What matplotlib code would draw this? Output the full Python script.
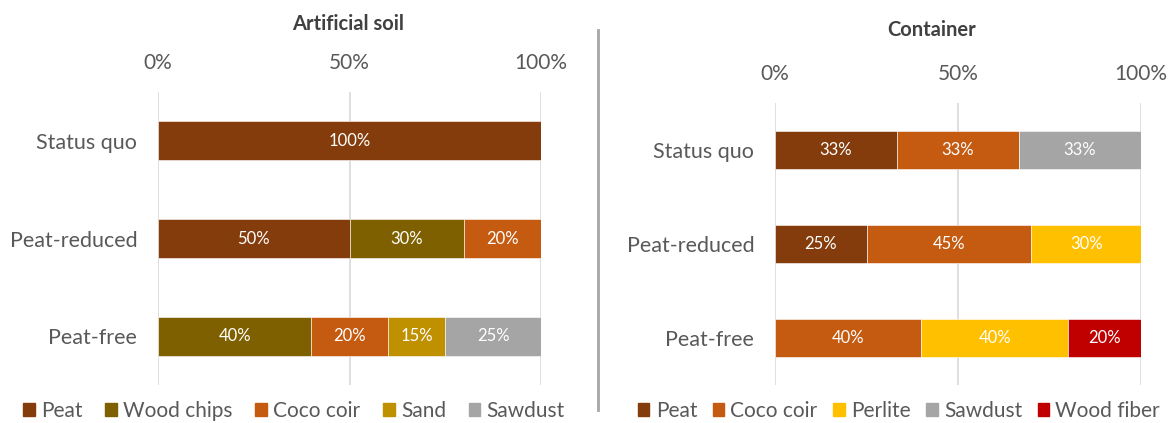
import matplotlib.pyplot as plt
from matplotlib.patches import Patch
from matplotlib.lines import Line2D

plt.rcParams['font.family'] = ['Lato', 'DejaVu Sans']

scenarios = ['Status quo', 'Peat-reduced', 'Peat-free']

# Artificial soil shares (%)
soil_materials = ['Peat', 'Wood chips', 'Coco coir', 'Sand', 'Sawdust']
soil_peat = [100, 50, 0]
soil_wood_chips = [0, 30, 40]
soil_coco = [0, 20, 20]
soil_sand = [0, 0, 15]
soil_sawdust = [0, 0, 25]

# Container shares (%)
cont_materials = ['Peat', 'Coco coir', 'Perlite', 'Sawdust', 'Wood fiber']
cont_peat = [33.3, 25, 0]
cont_coco = [33.3, 45, 40]
cont_perlite = [0, 30, 40]
cont_sawdust = [33.3, 0, 0]
cont_wood_fiber = [0, 0, 20]

colors = {
    'Peat': '#843C0C',
    'Wood chips': '#7F6000',
    'Coco coir': '#C55A11',
    'Sand': '#BF9000',
    'Sawdust': '#A5A5A5',
    'Perlite': '#FFC000',
    'Wood fiber': '#C00000',
}

TXT = '#595959'
W, H = 1173, 423
fig = plt.figure(figsize=(W / 100, H / 100), dpi=100)


def fig_rect(x0, x1, ytop, ybot):
    return [x0 / W, 1 - ybot / H, (x1 - x0) / W, (ybot - ytop) / H]


def draw(ax, materials, series):
    left = [0.0] * len(scenarios)
    for name, vals in zip(materials, series):
        bars = ax.barh(range(len(scenarios)), vals, left=left, height=0.4,
                       color=colors[name], edgecolor='white', linewidth=0.4, zorder=3)
        for b, v in zip(bars, vals):
            if v > 0:
                ax.text(b.get_x() + b.get_width() / 2, b.get_y() + b.get_height() / 2,
                        f'{round(v)}%', ha='center', va='center', color='white',
                        fontsize=12, zorder=4)
        left = [l + v for l, v in zip(left, vals)]
    ax.set_xlim(0, 100)
    ax.set_ylim(2.5, -0.5)
    ax.set_xticks([0, 50, 100])
    ax.set_xticklabels(['0%', '50%', '100%'])
    ax.set_yticks(range(len(scenarios)))
    ax.set_yticklabels(scenarios)
    ax.xaxis.tick_top()
    ax.tick_params(axis='x', length=0, pad=14, labelsize=15, labelcolor=TXT)
    ax.tick_params(axis='y', length=0, pad=15, labelsize=15.5, labelcolor=TXT)
    ax.grid(axis='x', color='#D9D9D9', linewidth=1.2, zorder=0)
    for s in ax.spines.values():
        s.set_visible(False)


ax1 = fig.add_axes(fig_rect(158, 541, 92, 385))
draw(ax1, soil_materials, [soil_peat, soil_wood_chips, soil_coco, soil_sand, soil_sawdust])
ax2 = fig.add_axes(fig_rect(775, 1141, 103, 385))
draw(ax2, cont_materials, [cont_peat, cont_coco, cont_perlite, cont_sawdust, cont_wood_fiber])

fig.text(348 / W, 1 - 24 / H, 'Artificial soil', ha='center', va='center',
         fontsize=14.5, fontweight='bold', color='#404040')
fig.text(932 / W, 1 - 30 / H, 'Container', ha='center', va='center',
         fontsize=14.5, fontweight='bold', color='#404040')

fig.add_artist(Line2D([598 / W, 598 / W], [1 - 30 / H, 1 - 410 / H],
                      color='#A6A6A6', linewidth=2))

leg_kw = dict(loc='center', ncol=5, frameon=False, handlelength=0.55,
              handleheight=0.55, handletextpad=0.3, labelcolor=TXT, fontsize=15)
fig.legend([Patch(color=colors[m]) for m in soil_materials], soil_materials,
           bbox_to_anchor=(294 / W, 1 - 411 / H), columnspacing=1.1, **leg_kw)
fig.legend([Patch(color=colors[m]) for m in cont_materials], cont_materials,
           bbox_to_anchor=(899 / W, 1 - 411 / H), columnspacing=0.75, **leg_kw)

fig.savefig('out.png', dpi=100)
